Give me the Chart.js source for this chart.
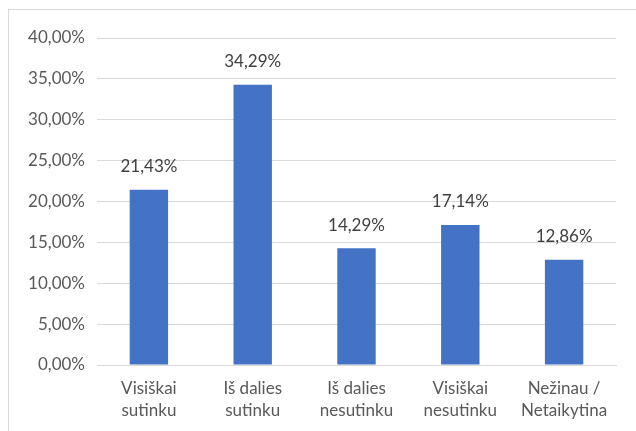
<!DOCTYPE html>
<html>
<head>
<meta charset="utf-8">
<script src="https://cdn.jsdelivr.net/npm/chart.js@4"></script>
<style>
  html, body { margin: 0; padding: 0; background: #fff; }
  #wrap { width: 636px; height: 431px; position: relative; }
</style>
</head>
<body>
<div id="wrap"><canvas id="chart" width="636" height="431"></canvas></div>
<script>
// chart data
const categories = [
  ['Visiškai', 'sutinku'],
  ['Iš dalies', 'sutinku'],
  ['Iš dalies', 'nesutinku'],
  ['Visiškai', 'nesutinku'],
  ['Nežinau /', 'Netaikytina']
];
const shares = [21.43, 34.29, 14.29, 17.14, 12.86];
const yTicks = [0, 5, 10, 15, 20, 25, 30, 35, 40];

const fmt = v => v.toFixed(2).replace('.', ',') + '%';
const FONT = 'Lato, "Open Sans", sans-serif';

// outer frame + value labels above bars
const decor = {
  id: 'decor',
  beforeDraw(chart) {
    const ctx = chart.ctx;
    ctx.save();
    ctx.strokeStyle = '#d9d9d9';
    ctx.lineWidth = 1;
    ctx.strokeRect(8.5, 9.5, 700, 500);
    ctx.restore();
  },
  afterDatasetsDraw(chart) {
    const ctx = chart.ctx;
    const meta = chart.getDatasetMeta(0);
    ctx.save();
    ctx.font = '17px ' + FONT;
    ctx.fillStyle = '#404040';
    ctx.textAlign = 'center';
    ctx.textBaseline = 'middle';
    meta.data.forEach((bar, i) => {
      ctx.fillText(fmt(shares[i]), bar.x, bar.y - 23);
    });
    ctx.restore();
  }
};

new Chart(document.getElementById('chart').getContext('2d'), {
  type: 'bar',
  data: {
    labels: categories,
    datasets: [{
      data: shares,
      backgroundColor: '#4472C4',
      categoryPercentage: 1,
      barPercentage: 0.37
    }]
  },
  options: {
    responsive: false,
    animation: false,
    devicePixelRatio: 1,
    layout: { padding: { top: 38, right: 20, left: 0, bottom: 0 } },
    plugins: {
      legend: { display: false },
      tooltip: { enabled: false }
    },
    scales: {
      x: {
        grid: { display: false, drawTicks: false },
        border: { display: true, color: '#d9d9d9' },
        ticks: {
          color: '#595959',
          font: { family: FONT, size: 17, lineHeight: 1.3 },
          padding: 12,
          maxRotation: 0
        },
        afterFit(scale) { scale.height = 66; }
      },
      y: {
        min: 0,
        max: 40,
        afterBuildTicks(scale) { scale.ticks = yTicks.map(v => ({ value: v })); },
        grid: { color: '#d9d9d9', drawTicks: false },
        border: { display: false },
        ticks: {
          color: '#595959',
          font: { family: FONT, size: 17 },
          padding: 12,
          callback: v => fmt(v)
        },
        afterFit(scale) { scale.width = 97; }
      }
    }
  },
  plugins: [decor]
});
</script>
</body>
</html>
